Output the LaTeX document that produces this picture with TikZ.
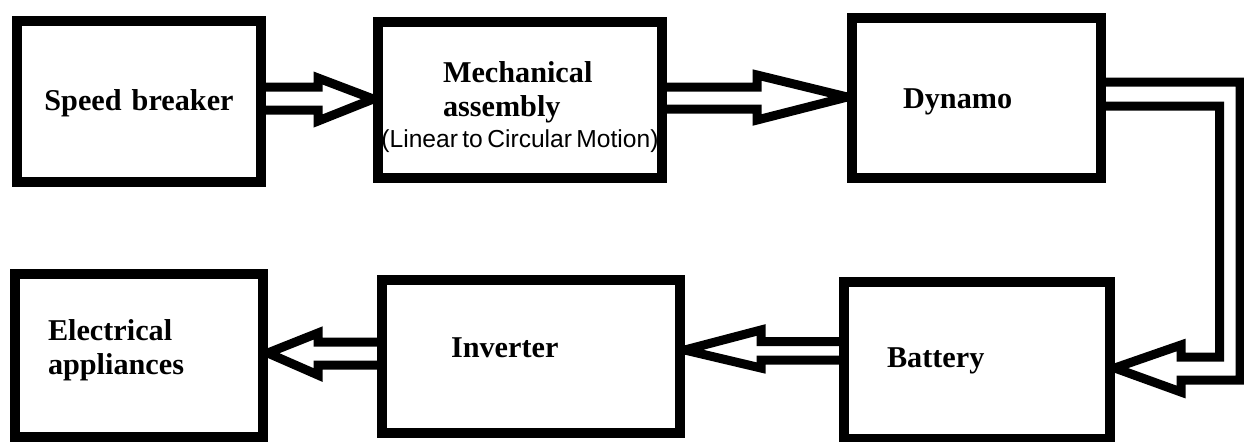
\documentclass[tikz,border=0pt]{standalone}
\usepackage{fontspec}
\setmainfont{Liberation Serif}
\newfontfamily\arialfont{Liberation Sans}
\usetikzlibrary{backgrounds}

\begin{document}
\begin{tikzpicture}[x=0.02cm, y=-0.02cm,
  blockbox/.style={draw=black, rectangle, line width=0.19cm, fill=white,
                   font=\fontsize{17.2}{19.9}\selectfont\bfseries,
                   inner ysep=0pt, align=left},
  hollow/.style={draw=black, line width=0.18cm, line join=miter}
]
\useasboundingbox (0,0) rectangle (1244,441);

\node[blockbox, align=center, inner xsep=0pt, text width=4.88cm,
      text height=1.78cm, text depth=1.44cm] (breaker) at (139,101.5) {Speed breaker};
\node[blockbox, inner xsep=1.3cm, text width=3.08cm,
      text height=1.2cm, text depth=1.92cm] (mech) at (520,100)
      {Mechanical\\assembly\\[-2.8pt]\makebox[\linewidth][c]{\fontsize{14}{16}\arialfont\mdseries\spaceskip=0.18em(Linear to Circular Motion)}};
\node[blockbox, inner xsep=1.02cm, text width=2.94cm,
      text height=1.8cm, text depth=1.4cm] (dynamo) at (976.5,98) {Dynamo};
\node[blockbox, inner xsep=0.86cm, text width=3.6cm,
      text height=1.7cm, text depth=1.44cm] (battery) at (977,360.5) {Battery};
\node[blockbox, inner xsep=1.38cm, text width=3.2cm,
      text height=1.54cm, text depth=1.52cm] (inverter) at (531,356.5) {Inverter};
\node[blockbox, inner xsep=0.66cm, text width=3.64cm,
      text height=1.32cm, text depth=1.94cm] (appl) at (139,355.5) {Electrical\\appliances};

\begin{scope}[on background layer]
\draw[hollow] (breaker.east |- 0,87) -| (318,78) -- (mech.west |- 0,99) -- (318,121) |- (breaker.east |- 0,110);
\draw[hollow] (mech.east |- 0,87) -| (757,75) -- (dynamo.west |- 0,97) -- (757,120) |- (mech.east |- 0,109);
\draw[hollow] (dynamo.east |- 0,82) -| (1240,380) -- (1181,380) -- (1181,392) -- (battery.east |- 0,368)
  -- (1181,345) -- (1181,357) -| (1219.5,106) -- (dynamo.east |- 0,106);
\draw[hollow] (battery.west |- 0,341.5) -| (761,330) -- (inverter.east |- 0,350) -- (761,368) |- (battery.west |- 0,360);
\draw[hollow] (inverter.west |- 0,342) -| (318,333) -- (appl.east |- 0,353) -- (318,375) |- (inverter.west |- 0,365);
\end{scope}
\end{tikzpicture}
\end{document}
